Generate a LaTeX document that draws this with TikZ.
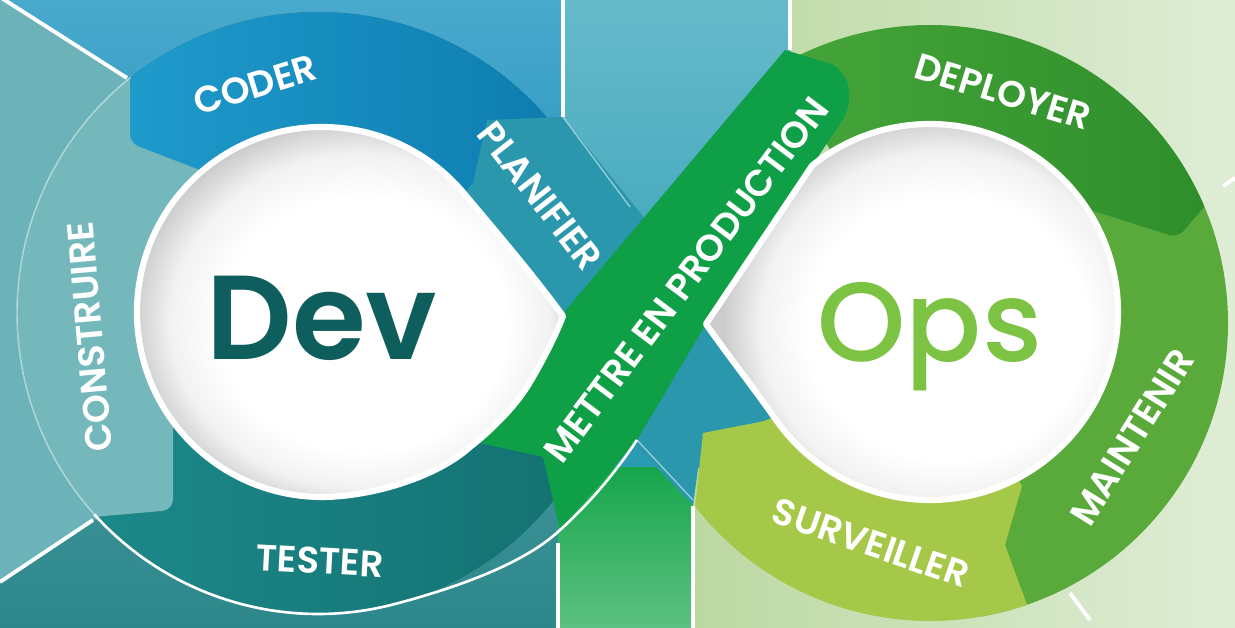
\documentclass[tikz,border=0pt]{standalone}
\usepackage{fontspec}
\setmainfont{Poppins}
\newfontfamily\lblfont{Poppins SemiBold}
\newfontfamily\devfont{Poppins SemiBold}
\newfontfamily\opsfont{Poppins Medium}
\usepackage{tikz}
\usetikzlibrary{shapes,arrows.meta,positioning,calc}

\definecolor{skyblue}{HTML}{4AAACD}
\definecolor{skyblueB}{HTML}{2F97C2}
\definecolor{sideteal}{HTML}{6BB3B8}
\definecolor{darkteal}{HTML}{2C878B}
\definecolor{midteal}{HTML}{2A9BB3}
\definecolor{midtealtop}{HTML}{66BACA}
\definecolor{bggreen}{HTML}{17A64C}
\definecolor{palegreen}{HTML}{BCD8A2}
\definecolor{palegreenB}{HTML}{DFEDD6}
\definecolor{coderA}{HTML}{1F9ACB}
\definecolor{coderB}{HTML}{0D7CAF}
\definecolor{construire}{HTML}{74B8BC}
\definecolor{testerA}{HTML}{1E8C8C}
\definecolor{testerB}{HTML}{136F70}
\definecolor{planifier}{HTML}{2A97AC}
\definecolor{mettre}{HTML}{0F9F47}
\definecolor{deployerA}{HTML}{46A539}
\definecolor{deployerB}{HTML}{2E8E2B}
\definecolor{maintenir}{HTML}{5AAA3B}
\definecolor{surveiller}{HTML}{A6C848}
\definecolor{devtext}{HTML}{0E5E5D}
\definecolor{opstext}{HTML}{7CC243}

\pgfdeclareradialshading{holeglow}{\pgfpoint{4bp}{-4bp}}{color(0bp)=(white); color(16bp)=(white); color(21bp)=(black!5); color(25bp)=(black!20); color(50bp)=(black!20)}

\tikzstyle{sep} = [draw=white, line width=2.2pt]

\begin{document}
\begin{tikzpicture}[x=0.02cm, y=0.02cm]
  \tikzset{
    lbl/.style={text=white, inner sep=0pt, font=\lblfont\fontsize{21}{21}\selectfont},
    big/.style={inner sep=0pt, anchor=base, font=\devfont\fontsize{68}{68}\selectfont},
    hole/.style={draw=white, line width=3.5pt, line join=round, shading=holeglow},
    contour/.style={draw=white, line width=1.5pt},
    faint/.style={draw=white, opacity=.5, line width=.8pt},
  }
  \useasboundingbox (0,0) rectangle (1235,628);

  % background panels
  \fill[sideteal] (0,0) rectangle (563,628);
  \shade[top color=skyblue, bottom color=skyblueB] (0,628) -- (563,628) -- (563,430) -- (127,550) -- (0,631) -- cycle;
  \shade[top color=darkteal!75!sideteal, bottom color=darkteal] (0,0) -- (0,46) -- (93,108) -- (300,150) -- (558,150) -- (558,0) -- cycle;
  \shade[top color=midtealtop, bottom color=midteal] (563,160) rectangle (790,628);
  \shade[top color=bggreen, bottom color=bggreen!70!white] (558,0) rectangle (693,160);
  \shade[left color=palegreen, right color=palegreenB] (693,0) -- (693,160) -- (790,160) -- (790,628) -- (1235,628) -- (1235,0) -- cycle;

  \draw[sep] (0,631) -- (127,550);
  \draw[sep] (0,46) -- (93,108);
  \draw[sep] (563,628) -- (563,511);
  \draw[sep] (790,628) -- (790,578);
  \draw[sep] (558,0) -- (558,85);
  \draw[sep] (693,0) -- (693,122);
  \draw[sep] (1223,442) -- (1235,450);
  \draw[sep] (1070,35) -- (1090,8);

  % Dev ring
  \begin{scope}[shift={(318,315)}]
    \shade[left color=testerA, right color=testerB] (0,0) circle[radius=301];
    \fill[construire] (128.5:301) arc[start angle=128.5, end angle=222.6, radius=301]
      [rounded corners=6pt] -- (-145,-197) -- (-145,-100) [sharp corners] -- (0,0) -- cycle;
    \shade[left color=coderA, right color=coderB] (128.5:301) arc[start angle=128.5, end angle=35, radius=301]
      -- (0,0) -- (-118,143) [rounded corners=5pt] -- (-188,170) [sharp corners] -- cycle;
  \end{scope}

  % Ops ring
  \begin{scope}[shift={(930,305)}]
    \fill[maintenir] (45:298) arc[start angle=45, end angle=-80, radius=298] -- (0,0) -- cycle;
    \shade[left color=deployerA, right color=deployerB] (120:298) arc[start angle=120, end angle=23, radius=298]
      [rounded corners=5pt] -- (19:262) [sharp corners] -- (40:185) -- (0,0) -- cycle;
  \end{scope}

  % planifier, passing under
  \fill[planifier] (487,508) -- (563,511) -- (650,403) -- (790,198) -- (703,195) -- (693,123)
    -- (630,188) -- (561,305) -- (420,380) -- (473,445) -- cycle;

  \begin{scope}[shift={(930,305)}]
    \fill[surveiller] [rounded corners=6pt] (-227,-110) -- (-160,-97) [sharp corners] -- (0,0) -- (92,-163)
      -- (75,-222) -- (-71:298) arc[start angle=-71, end angle=-142, radius=298] -- cycle;
  \end{scope}

  % mettre en production, passing over
  \fill[mettre] (480,185) -- (561,312) -- (785,578) [rounded corners=10pt] -- (845,560) -- (852,522)
    [sharp corners] -- (706,304) -- (637,188) -- (560,98) -- (553,128) -- (543,171) -- cycle;

  % holes
  \shadedraw[hole] ($(322,316)+(40:185)$) arc[start angle=40, end angle=274, radius=185]
    .. controls +(4:50) and +(222:40) .. (470,181)
    .. controls +(38:25) and +(238:25) .. (527,241)
    .. controls +(58:25) and +(250:20) .. (563,312)
    .. controls +(126:50) and +(-50:50) .. ($(322,316)+(40:185)$) -- cycle;
  \shadedraw[hole] (706,304) -- ($(930,316)+(128.8:188)$) arc[start angle=128.8, end angle=-145, radius=188]
    .. controls +(125:40) and +(-55:40) .. (706,304) -- cycle;

  % outlines
  \draw[faint] ($(318,315)+(128.5:301)$) arc[start angle=128.5, end angle=222, radius=301];
  \draw[contour] ($(318,315)+(222:301)$) arc[start angle=222, end angle=285, radius=301]
    .. controls (440,36) and (520,60) .. (560,98) .. controls (590,125) and (615,155) .. (637,188);
  \draw[faint] (637,188) -- (693,128);
  \draw[faint] (563,511) -- (630,421);

  % texts
  \node[big, text=devtext] (dev) at (322,268) {Dev};
  \node[big, text=opstext, font=\opsfont\fontsize{64}{64}\selectfont] (ops) at (930,266) {Ops};
  \node[lbl, rotate=17] (coder) at (255,543) {CODER};
  \node[lbl, rotate=-52] (planifier) at (540,432) {PLANIFIER};
  \node[lbl, rotate=95] (construire) at (90,291) {CONSTRUIRE};
  \node[lbl, rotate=-3] (tester) at (320,67) {TESTER};
  \node[lbl, rotate=53] (mettre) at (686,348) {METTRE EN PRODUCTION};
  \node[lbl, rotate=-17] (deployer) at (1003,536) {DEPLOYER};
  \node[lbl, rotate=58] (maintenir) at (1132,191) {MAINTENIR};
  \node[lbl, rotate=-19] (surveiller) at (871,85) {SURVEILLER};
\end{tikzpicture}
\end{document}
